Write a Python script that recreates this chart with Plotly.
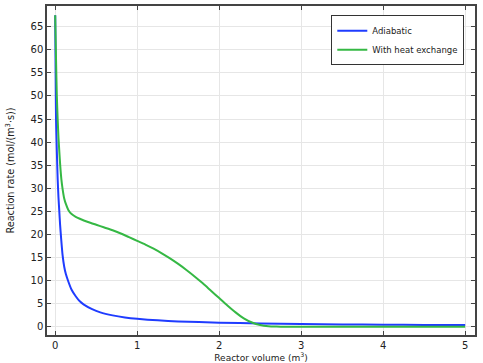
import plotly.graph_objects as go

# Adiabatic
x_adiabatic = [0, 0.005, 0.01, 0.02, 0.03, 0.04, 0.05, 0.06, 0.073, 0.09, 0.11, 0.13, 0.16, 0.2,
               0.25, 0.3, 0.35, 0.45, 0.55, 0.7, 0.85, 1.0, 1.25, 1.5, 2.0, 2.5, 3.0, 3.5, 4.0, 4.5, 5.0]
r_adiabatic = [67.5, 55, 45, 38, 32, 28, 25, 22, 19, 15.5, 13, 11.4, 9.8, 8.0,
               6.6, 5.5, 4.8, 3.8, 3.1, 2.45, 2.0, 1.7, 1.38, 1.15, 0.87, 0.7, 0.58, 0.5, 0.44, 0.39, 0.35]

# With heat exchange
x_heat = [0, 0.01, 0.02, 0.03, 0.04, 0.05, 0.061, 0.075, 0.089, 0.11, 0.13, 0.16, 0.2, 0.25, 0.3,
          0.4, 0.5, 0.6, 0.7, 0.8, 0.9, 1.0, 1.1, 1.2, 1.3, 1.4, 1.5, 1.6, 1.7, 1.8, 1.9, 2.0,
          2.1, 2.2, 2.3, 2.4, 2.5, 2.6, 2.7, 2.8, 3.0, 4.0, 5.0]
r_heat = [67.5, 58, 50, 45, 41, 38, 35, 32, 30, 27.8, 26.6, 25.3, 24.4, 23.8, 23.4,
          22.7, 22.1, 21.5, 20.9, 20.2, 19.4, 18.6, 17.8, 16.9, 15.9, 14.8, 13.6, 12.3, 10.9, 9.4, 7.8, 6.2,
          4.6, 3.1, 1.8, 0.9, 0.35, 0.1, 0.03, 0.0, 0.0, 0.0, 0.0]

x_ticks = [0, 1, 2, 3, 4, 5]
y_ticks = list(range(0, 70, 5))

fig = go.Figure()
fig.add_trace(go.Scatter(x=x_adiabatic, y=r_adiabatic, mode="lines", name="Adiabatic",
                         line=dict(color="#1f3cff", width=2, shape="spline", smoothing=0.5)))
fig.add_trace(go.Scatter(x=x_heat, y=r_heat, mode="lines", name="With heat exchange",
                         line=dict(color="#35b844", width=2, shape="spline", smoothing=0.5)))

axis_common = dict(showgrid=True, gridcolor="#e6e6e6", gridwidth=1, zeroline=False,
                   showline=True, linecolor="#444444", linewidth=1.5, mirror="ticks",
                   ticks="inside", ticklen=4, tickcolor="#444444",
                   tickfont=dict(family="DejaVu Sans", size=10, color="#222222"))

fig.update_xaxes(range=[-0.1, 5.12], tickvals=x_ticks,
                 title=dict(text="Reactor volume (m<sup>3</sup>)", standoff=0,
                            font=dict(family="DejaVu Sans", size=9, color="#222222")),
                 **axis_common)
fig.update_yaxes(range=[-1.8, 69.5], tickvals=y_ticks,
                 title=dict(text="Reaction rate (mol/(m<sup>3</sup>·s))", standoff=14,
                            font=dict(family="DejaVu Sans", size=9.7, color="#222222")),
                 **axis_common)

fig.update_layout(
    width=483, height=363,
    margin=dict(l=47, r=8, t=4, b=28),
    plot_bgcolor="white", paper_bgcolor="white",
    font=dict(family="DejaVu Sans", size=10, color="#222222"),
    legend=dict(x=0.975, y=0.972, xanchor="right", yanchor="top",
                bgcolor="white", bordercolor="#333333", borderwidth=1,
                font=dict(family="DejaVu Sans", size=8.5, color="#222222"),
                tracegroupgap=0, itemwidth=30),
)

fig.write_html("out.html")
